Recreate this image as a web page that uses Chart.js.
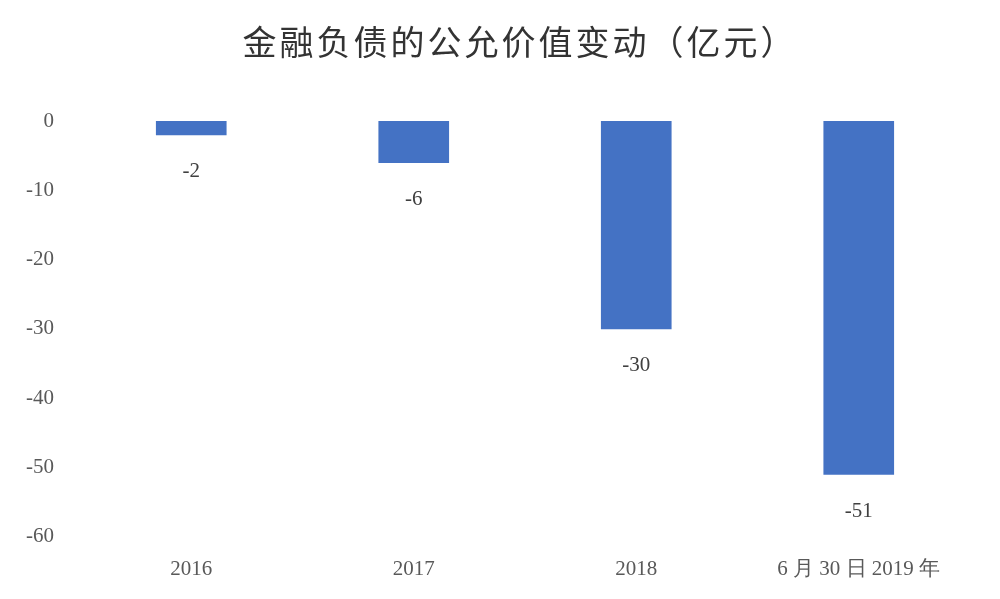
<!DOCTYPE html>
<html>
<head>
<meta charset="utf-8">
<script src="https://cdn.jsdelivr.net/npm/chart.js@4/dist/chart.umd.min.js"></script>
<style>
  html, body { margin: 0; padding: 0; background: #fff; }
  #wrap { position: relative; width: 1000px; height: 599px; }
  #titulo { position: absolute; top: 16px; left: 20px; width: 1000px; text-align: center;
    font-family: "Noto Sans CJK SC"; font-size: 34px; color: #333; letter-spacing: 3px; }
</style>
</head>
<body>
<div id="wrap">
  <div id="titulo">金融负债的公允价值变动（亿元）</div>
  <canvas id="grafico" width="1000" height="599"></canvas>
</div>
<script>
const categorias = ['2016', '2017', '2018', '6 月 30 日 2019 年'];
const valores = [-2, -6, -30, -51];
const ticksY = [0, -10, -20, -30, -40, -50, -60];

const etiquetas = {
    id: 'etiquetas',
    afterDatasetsDraw(chart) {
        const ctx = chart.ctx;
        const meta = chart.getDatasetMeta(0);
        ctx.save();
        ctx.font = '21px "Liberation Serif"';
        ctx.fillStyle = '#404040';
        ctx.textAlign = 'center';
        ctx.textBaseline = 'middle';
        meta.data.forEach((bar, i) => {
            ctx.fillText(String(valores[i]), bar.x, bar.y + 37);
        });
        ctx.restore();
    }
};

new Chart(document.getElementById('grafico').getContext('2d'), {
    type: 'bar',
    data: {
        labels: categorias,
        datasets: [{ data: valores, backgroundColor: '#4472C4', barThickness: 70 }]
    },
    options: {
        responsive: false,
        animation: false,
        layout: { padding: { top: 121, right: 30, left: 8, bottom: 5 } },
        plugins: { legend: { display: false }, tooltip: { enabled: false } },
        scales: {
            x: {
                grid: { display: false },
                border: { display: false },
                ticks: { color: '#595959', font: { family: 'Liberation Serif', size: 21 }, padding: 12 }
            },
            y: {
                min: -60, max: 0,
                afterBuildTicks: s => { s.ticks = ticksY.map(v => ({ value: v })); },
                grid: { display: false },
                border: { display: false },
                ticks: { color: '#595959', font: { family: 'Liberation Serif', size: 21 }, padding: 18 }
            }
        }
    },
    plugins: [etiquetas]
});
</script>
</body>
</html>
